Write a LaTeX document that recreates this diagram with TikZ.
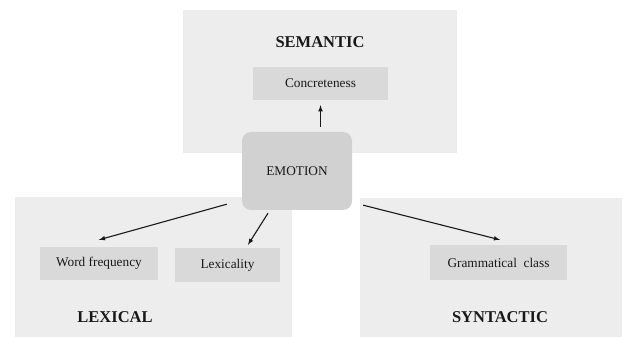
\documentclass[tikz,border=0pt]{standalone}
\usepackage{fontspec}
\setmainfont{Liberation Serif}
\usepackage{tikz}
\usetikzlibrary{positioning}

\begin{document}
\begin{tikzpicture}[x=1pt, y=1pt,
panel/.style={fill=black!7, draw=none},
item/.style={fill=black!15, draw=none, inner sep=0pt, font=\fontsize{13.3}{15}\selectfont, text=black!90},
head/.style={font=\fontsize{16.5}{18}\selectfont\bfseries, text=black!90},
arr/.style={-latex, line width=1.1pt, black!90}]
\useasboundingbox (0,0) rectangle (625,337);

% panels
\fill[panel] (183,184) rectangle (457,327);
\fill[panel] (15,0) rectangle (292,140);
\fill[panel] (360,0) rectangle (622,139);

\node[head] (semantic) at (320,295) {SEMANTIC};
\node[head] (lexical) at (115,20) {LEXICAL};
\node[head] (syntactic) at (500,20) {SYNTACTIC};

\node[item, minimum width=135, minimum height=33] (conc) at (320.5,253.5) {Concreteness};
\node[item, minimum width=110, minimum height=78, rounded corners=9pt, fill=black!18] (emotion) at (297,166) {EMOTION};

\node[item, minimum width=118, minimum height=33] (wordfreq) at (99,73.5) {Word frequency};
\node[item, minimum width=105, minimum height=34] (lexicality) at (227.5,72) {Lexicality};
\node[item, minimum width=137, minimum height=35] (gramclass) at (498.5,74.5) {Grammatical\ \ class};

% arrows
\draw[arr, shorten <=5pt, shorten >=5pt] (conc.south |- emotion.north) -- (conc.south);
\draw[arr] ([shift={(-15,6)}]emotion.south west) -- ([yshift=7]wordfreq.north);
\draw[arr] ([shift={(-29,-3)}]emotion.south) -- ([shift={(20.5,3)}]lexicality.north);
\draw[arr] ([shift={(11,5)}]emotion.south east) -- ([shift={(1.5,5)}]gramclass.north);

\end{tikzpicture}
\end{document}
